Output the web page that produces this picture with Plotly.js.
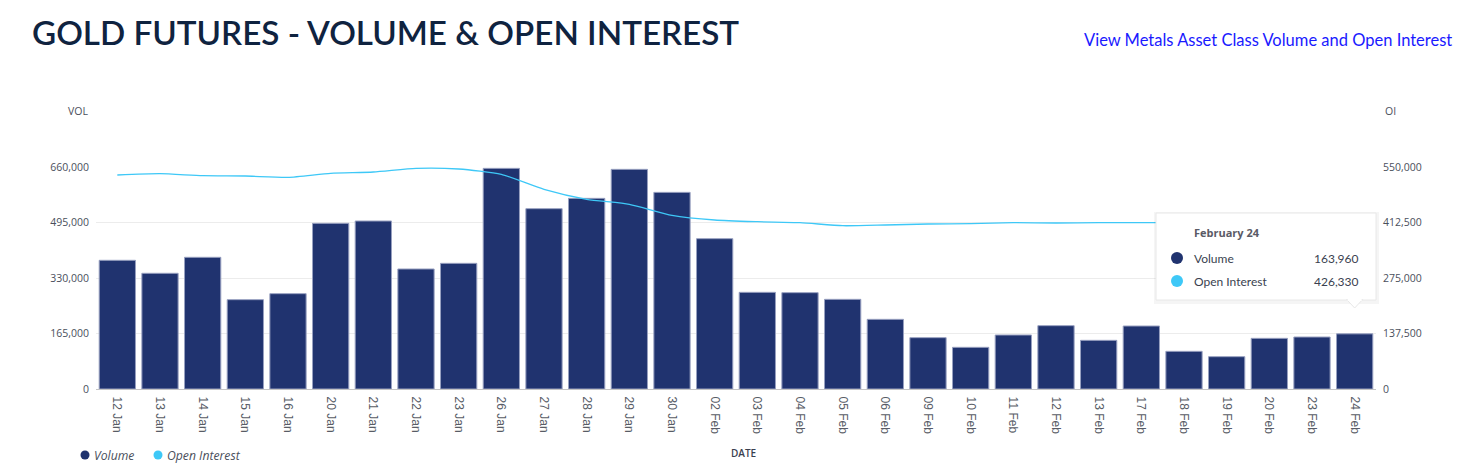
<!DOCTYPE html>
<html>
<head>
<meta charset="utf-8">
<script src="https://cdn.plot.ly/plotly-3.0.1.min.js"></script>
<style>
html,body{margin:0;padding:0;background:#fff;}
#chart{width:1462px;height:472px;}
</style>
</head>
<body>
<div id="chart"></div>
<script>
// ---- data ----
var dates = ["12 Jan","13 Jan","14 Jan","15 Jan","16 Jan","20 Jan","21 Jan","22 Jan","23 Jan","26 Jan",
             "27 Jan","28 Jan","29 Jan","30 Jan","02 Feb","03 Feb","04 Feb","05 Feb","06 Feb","09 Feb",
             "10 Feb","11 Feb","12 Feb","13 Feb","17 Feb","18 Feb","19 Feb","20 Feb","23 Feb","24 Feb"];
var volume = [382600,344000,391500,265600,283400,492500,499500,356800,373600,656000,
              536100,566800,653000,584600,446900,287400,286400,266600,207100,152600,
              123900,160500,188300,144700,187300,112000,96100,150600,154600,163960];
var openInterest = [530200,533500,528500,527700,524400,534400,537600,546700,545000,531800,
                    494700,470000,457500,430300,418700,414500,412000,404600,406300,408800,
                    409600,412000,411300,412000,412000,413000,415000,418000,421000,426330];
var volTicks = [0,165000,330000,495000,660000];
var oiTicks = [0,137500,275000,412500,550000];
var seriesNames = ["Volume","Open Interest"];
var tooltipDate = "February 24";
var tooltipIndex = dates.length - 1;

// ---- styles ----
var NAVY = "#20336f";
var SKY = "#3ec8f7";
var W = 1462, H = 472;
var M = {l:96, r:86, t:167, b:83};
function px2x(px){ return (px - M.l) / (W - M.l - M.r); }
function py2y(py){ return (H - M.b - py) / (H - M.t - M.b); }

var traces = [
  {type:"bar", x:dates, y:volume, name:seriesNames[0], yaxis:"y", showlegend:false,
   marker:{color:NAVY, line:{color:"#98a0c0", width:1}}, hoverinfo:"skip"},
  {type:"scatter", mode:"lines", x:dates, y:openInterest, name:seriesNames[1], yaxis:"y2", showlegend:false,
   line:{color:SKY, width:1.3, shape:"spline", smoothing:0.6}, hoverinfo:"skip"}
];

// tooltip geometry (pixels)
var tb = {x0:1156, x1:1376, y0:213, y1:300};
var tipX = M.l + (tooltipIndex + 0.5) * (W - M.l - M.r) / dates.length;

function dot(cx, cy, r, color){
  return {type:"circle", xref:"paper", yref:"paper", layer:"above",
          x0:px2x(cx-r), x1:px2x(cx+r), y0:py2y(cy+r), y1:py2y(cy-r), fillcolor:color, line:{width:0}};
}

var shapes = [
  // shadow
  {type:"rect", xref:"paper", yref:"paper", x0:px2x(tb.x0-2), x1:px2x(tb.x1+3), y0:py2y(tb.y1+4), y1:py2y(tb.y0-1),
   fillcolor:"rgba(0,0,0,0.04)", line:{width:0}, layer:"above"},
  {type:"rect", xref:"paper", yref:"paper", x0:px2x(tb.x0), x1:px2x(tb.x1), y0:py2y(tb.y1), y1:py2y(tb.y0),
   fillcolor:"#ffffff", line:{color:"#e8e8e8", width:1}, layer:"above"},
  {type:"path", xref:"paper", yref:"paper", layer:"above",
   path:"M "+px2x(tipX-8)+" "+py2y(tb.y1-0.5)+" L "+px2x(tipX+8)+" "+py2y(tb.y1-0.5)+" L "+px2x(tipX)+" "+py2y(tb.y1+8)+" Z",
   fillcolor:"#ffffff", line:{color:"#e8e8e8", width:1}},
  {type:"line", xref:"paper", yref:"paper", layer:"above",
   x0:px2x(tipX-7), x1:px2x(tipX+7), y0:py2y(tb.y1), y1:py2y(tb.y1), line:{color:"#ffffff", width:2}},
  dot(1177, 258, 6, NAVY),
  dot(1177, 281, 6, SKY),
  // legend dots
  dot(85, 455, 4.5, NAVY),
  dot(158, 455, 4.5, SKY)
];

function fmt(v){ return v.toLocaleString("en-US"); }

var tf = {family:"Lato, 'Open Sans', sans-serif", size:12, color:"#3a3f4f"};
var lf = {family:"'Open Sans', sans-serif", size:12.2, style:"italic", color:"#4a4f5c"};
function ann(text, px, py, xanchor, font){
  return {text:text, xref:"paper", yref:"paper", x:px2x(px), y:py2y(py), xanchor:xanchor, yanchor:"middle",
          showarrow:false, font:font};
}
var annotations = [
  ann("View Metals Asset Class Volume and Open Interest", 1454, 40, "right",
      {family:"Lato, sans-serif", size:16.5, color:"#1a1aff"}),
  ann("VOL", 90, 111, "right", {family:"'Open Sans', sans-serif", size:10.5, color:"#4a4f5c"}),
  ann("OI", 1383, 111, "left", {family:"'Open Sans', sans-serif", size:10.5, color:"#4a4f5c"}),
  ann("<b>"+tooltipDate+"</b>", 1192, 232, "left", {family:"'Open Sans', sans-serif", size:11, color:"#5a5a66"}),
  ann(seriesNames[0], 1192, 258, "left", tf),
  ann(seriesNames[1], 1192, 281, "left", tf),
  ann(fmt(volume[tooltipIndex]), 1361, 258, "right", tf),
  ann(fmt(openInterest[tooltipIndex]), 1361, 281, "right", tf),
  // legend labels
  ann(seriesNames[0], 92, 455, "left", lf),
  ann(seriesNames[1], 165, 455, "left", lf),
  // x axis title
  ann("DATE", 743, 453, "center", {family:"'Open Sans', sans-serif", size:10, weight:600, color:"#3a3f4f"})
];

var layout = {
  width:W, height:H,
  margin:M,
  paper_bgcolor:"#ffffff", plot_bgcolor:"#ffffff",
  title:{text:"GOLD FUTURES - VOLUME &amp; OPEN INTEREST", xref:"container", yref:"container",
         x:32/W, xanchor:"left", y:1-33/H, yanchor:"middle",
         font:{family:"Lato, sans-serif", size:33.2, weight:600, color:"#0f2340"}},
  bargap:0.15,
  showlegend:false,
  xaxis:{type:"category", tickangle:90, showgrid:false, showline:true, linecolor:"#c4c4c4", linewidth:1.2,
         ticks:"", zeroline:false, tickfont:{family:"'Liberation Sans', Arial, sans-serif", size:12, color:"#585c66"},
         ticklabelstandoff:4, fixedrange:true},
  yaxis:{range:[0,660000], tickvals:volTicks, tickformat:",", showgrid:true, gridcolor:"#ececec", gridwidth:1,
         zeroline:false, showline:false, ticks:"", ticklabelstandoff:6,
         tickfont:{family:"'Open Sans', sans-serif", size:10.5, color:"#4a4f5c"}},
  yaxis2:{range:[0,550000], tickvals:oiTicks, tickformat:",", overlaying:"y", side:"right", showgrid:false,
          zeroline:false, showline:false, ticks:"", ticklabelstandoff:6,
          tickfont:{family:"'Open Sans', sans-serif", size:10.5, color:"#4a4f5c"}},
  shapes:shapes,
  annotations:annotations
};

Plotly.newPlot("chart", traces, layout, {displayModeBar:false, staticPlot:true});
</script>
</body>
</html>
